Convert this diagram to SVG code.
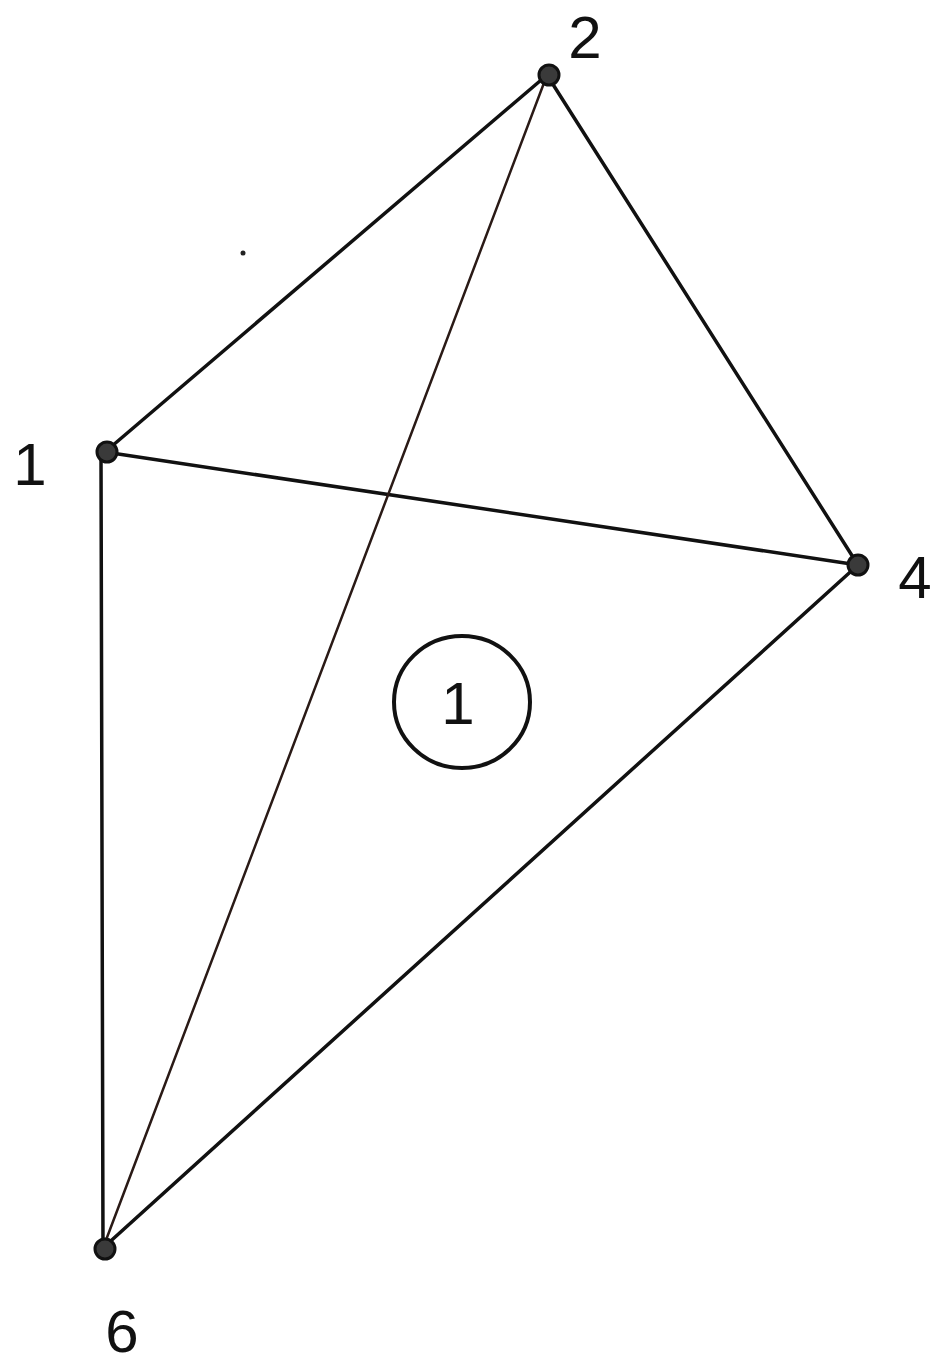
<svg xmlns="http://www.w3.org/2000/svg" width="952" height="1369" viewBox="0 0 952 1369">
<style>
.e{stroke:#111;stroke-width:3.5;fill:none;stroke-linecap:round}
.thin{stroke:#2a1a16;stroke-width:2.5}
.n{fill:#3a3a3a;stroke:#111;stroke-width:3}
.lbl{font-family:"Liberation Sans",Arial,sans-serif;font-size:60px;fill:#111}
</style>
<rect width="952" height="1369" fill="#fff"/>
<g id="connectors">
<line class="e" x1="105" y1="452" x2="547" y2="75"/>
<line class="e" x1="547" y1="75" x2="858" y2="565"/>
<line class="e" x1="105" y1="452" x2="858" y2="565"/>
<line class="e" x1="101" y1="455" x2="103" y2="1248"/>
<line class="e thin" x1="547" y1="75" x2="103" y2="1248"/>
<line class="e" x1="858" y1="565" x2="103" y2="1248"/>
</g>
<g id="node1"><circle class="n" cx="107" cy="452" r="10"/><text class="lbl" x="30" y="485" text-anchor="middle">1</text></g>
<g id="node2"><circle class="n" cx="549" cy="75" r="10"/><text class="lbl" x="585" y="58" text-anchor="middle">2</text></g>
<g id="node4"><circle class="n" cx="858" cy="565" r="10"/><text class="lbl" x="915" y="598" text-anchor="middle">4</text></g>
<g id="node6"><circle class="n" cx="105" cy="1249" r="10"/><text class="lbl" x="122" y="1352" text-anchor="middle">6</text></g>
<g id="face1"><ellipse cx="462" cy="702" rx="68" ry="66" fill="none" stroke="#111" stroke-width="4"/><text class="lbl" x="458" y="724" text-anchor="middle">1</text></g>
<circle cx="243" cy="253" r="2.5" fill="#222"/>
</svg>
